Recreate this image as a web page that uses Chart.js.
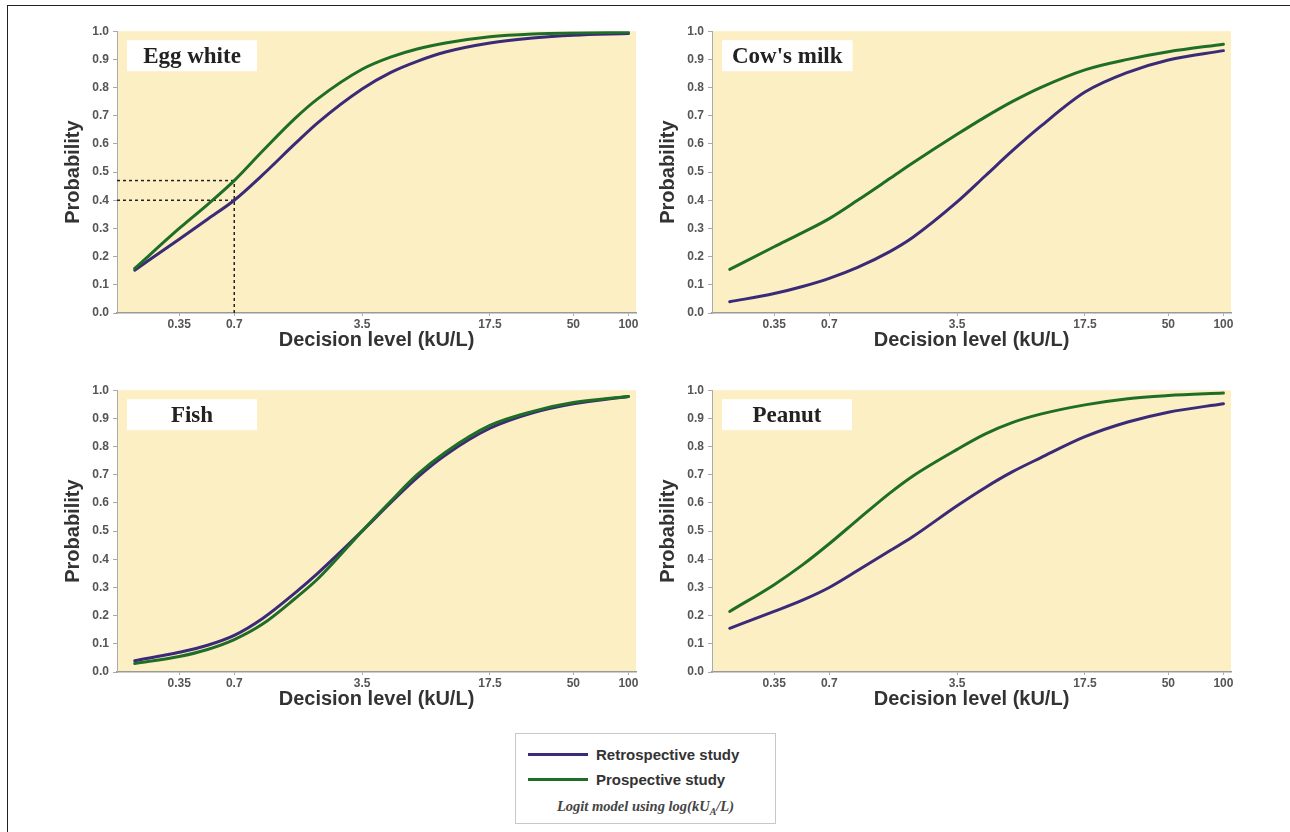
<!DOCTYPE html>
<html>
<head>
<meta charset="utf-8">
<script src="https://cdn.jsdelivr.net/npm/chart.js@4.4.1/dist/chart.umd.min.js"></script>
<style>
  html, body { margin: 0; padding: 0; background: #fff; }
  #page { position: relative; width: 1290px; height: 832px; overflow: hidden; background: #fff; }
  #frame { position: absolute; left: 7px; top: 5px; width: 1300px; height: 900px; border-left: 1.5px solid #222; border-top: 1.5px solid #222; }
  canvas.panel { position: absolute; }
  #legend { position: absolute; left: 515px; top: 733px; width: 261px; height: 91px; border: 1px solid #c8c8c8; background: #fff; box-sizing: border-box; font-family: "Liberation Sans", Arial, sans-serif; }
  .lrow { position: absolute; left: 12px; height: 20px; display: flex; align-items: center; font-weight: bold; font-size: 15px; color: #333; }
  .lline { width: 60px; height: 3px; margin-right: 8px; }
  #lnote { position: absolute; left: 0; width: 100%; top: 64px; text-align: center; font-family: "Liberation Serif", "Times New Roman", serif; font-style: italic; font-weight: bold; font-size: 14.5px; color: #444; }
</style>
</head>
<body>
<div id="page">
  <div id="frame"></div>
  <canvas class="panel" id="c1" width="600" height="340" style="left:40px;top:20px"></canvas>
  <canvas class="panel" id="c2" width="600" height="340" style="left:635px;top:20px"></canvas>
  <canvas class="panel" id="c3" width="600" height="340" style="left:40px;top:379px"></canvas>
  <canvas class="panel" id="c4" width="600" height="340" style="left:635px;top:379px"></canvas>
  <div id="legend">
    <div class="lrow" style="top:10px"><div class="lline" id="ll1"></div><span id="lt1"></span></div>
    <div class="lrow" style="top:35px"><div class="lline" id="ll2"></div><span id="lt2"></span></div>
    <div id="lnote">Logit model using log(kU<sub style="font-size:10px">A</sub>/L)</div>
  </div>
</div>
<script>
// ---------- data ----------
const panelTitles = ["Egg white", "Cow's milk", "Fish", "Peanut"];
const seriesNames = ["Retrospective study", "Prospective study"];
const xLevels = [0.2, 0.35, 0.5, 0.7, 1, 1.5, 2, 3.5, 5, 7, 10, 17.5, 30, 50, 100];
const xTickVals = [0.35, 0.7, 3.5, 17.5, 50, 100];
const xTickLabels = ["0.35", "0.7", "3.5", "17.5", "50", "100"];
const eggRetro   = [0.152, 0.262, 0.333, 0.40, 0.49, 0.60, 0.675, 0.795, 0.853, 0.893, 0.926, 0.958, 0.976, 0.986, 0.992];
const eggPro     = [0.158, 0.30, 0.385, 0.47, 0.575, 0.69, 0.76, 0.865, 0.908, 0.937, 0.958, 0.98, 0.99, 0.994, 0.996];
const milkRetro  = [0.04, 0.069, 0.094, 0.123, 0.162, 0.218, 0.268, 0.394, 0.487, 0.575, 0.662, 0.784, 0.854, 0.898, 0.931];
const milkPro    = [0.155, 0.235, 0.285, 0.335, 0.40, 0.477, 0.532, 0.634, 0.696, 0.75, 0.80, 0.863, 0.90, 0.927, 0.954];
const fishRetro  = [0.04, 0.07, 0.095, 0.13, 0.19, 0.28, 0.35, 0.50, 0.60, 0.69, 0.77, 0.865, 0.92, 0.952, 0.978];
const fishPro    = [0.03, 0.055, 0.08, 0.115, 0.17, 0.26, 0.33, 0.50, 0.605, 0.70, 0.78, 0.875, 0.925, 0.956, 0.978];
const peanutRetro= [0.155, 0.215, 0.255, 0.30, 0.36, 0.43, 0.48, 0.59, 0.655, 0.71, 0.76, 0.835, 0.887, 0.922, 0.952];
const peanutPro  = [0.215, 0.31, 0.38, 0.455, 0.54, 0.635, 0.695, 0.79, 0.845, 0.885, 0.915, 0.948, 0.97, 0.981, 0.99];
// egg white reference (dashed) lines
const refDecision = 0.7;
const refLevels = [0.47, 0.40];

// ---------- style ----------
const X_MIN = 0.16, X_MAX = 110;
const COL_RETRO = '#3b2a78';
const COL_PRO = '#1f6e28';
const BG = '#fcefc4';
const SANS = '"Liberation Sans", Arial, sans-serif';
const SERIF = '"Liberation Serif", "Times New Roman", serif';

document.getElementById('ll1').style.background = COL_RETRO;
document.getElementById('ll2').style.background = COL_PRO;
document.getElementById('lt1').textContent = seriesNames[0];
document.getElementById('lt2').textContent = seriesNames[1];

const bgPlugin = {
  id: 'areaBg',
  beforeDraw(chart) {
    const {ctx, chartArea: a} = chart;
    ctx.save();
    ctx.fillStyle = BG;
    ctx.fillRect(a.left, a.top, a.right - a.left, a.bottom - a.top);
    ctx.restore();
  },
  beforeDatasetsDraw(chart, args, opts) {
    if (!opts || !opts.text) return;
    const {ctx, chartArea: a} = chart;
    ctx.save();
    ctx.font = 'bold 23px ' + SERIF;
    const tw = ctx.measureText(opts.text).width;
    const bx = a.left + 10, by = a.top + 9, bw = Math.max(130, tw + 20), bh = 31;
    ctx.fillStyle = '#ffffff';
    ctx.fillRect(bx, by, bw, bh);
    ctx.fillStyle = '#222';
    ctx.textAlign = 'center';
    ctx.textBaseline = 'middle';
    ctx.fillText(opts.text, bx + bw / 2, by + bh / 2 + 1);
    ctx.restore();
  }
};

function pts(xs, ys) { return xs.map((x, i) => ({x: x, y: ys[i]})); }

function makeChart(id, title, retro, pro, withRef) {
  const datasets = [
    { label: seriesNames[0], data: pts(xLevels, retro), borderColor: COL_RETRO, borderWidth: 3,
      pointRadius: 0, cubicInterpolationMode: 'monotone', order: 1, borderCapStyle: 'round' },
    { label: seriesNames[1], data: pts(xLevels, pro), borderColor: COL_PRO, borderWidth: 3,
      pointRadius: 0, cubicInterpolationMode: 'monotone', order: 0, borderCapStyle: 'round' }
  ];
  if (withRef) {
    refLevels.forEach(lv => {
      datasets.push({ data: [{x: X_MIN, y: lv}, {x: refDecision, y: lv}], borderColor: '#222',
        borderWidth: 1.5, borderDash: [3, 3], pointRadius: 0, tension: 0, order: 2 });
    });
    datasets.push({ data: [{x: refDecision, y: 0}, {x: refDecision, y: Math.max(...refLevels)}], borderColor: '#222',
      borderWidth: 1.5, borderDash: [3, 3], pointRadius: 0, tension: 0, order: 2 });
  }
  return new Chart(document.getElementById(id), {
    type: 'line',
    data: { datasets },
    plugins: [bgPlugin],
    options: {
      responsive: false, animation: false, events: [],
      layout: { padding: { left: 0, right: 4, top: 8, bottom: 0 } },
      plugins: { legend: { display: false }, tooltip: { enabled: false }, areaBg: { text: title } },
      scales: {
        x: {
          type: 'logarithmic', min: X_MIN, max: X_MAX,
          afterBuildTicks(scale) { scale.ticks = xTickVals.map(v => ({ value: v })); },
          afterFit(scale) { scale.height = 47; },
          ticks: { autoSkip: false, maxRotation: 0, padding: 1,
            callback: (v) => { const i = xTickVals.indexOf(v); return i >= 0 ? xTickLabels[i] : ''; },
            font: { family: SANS, size: 12, weight: 'bold', lineHeight: 1.2 }, color: '#555' },
          grid: { drawOnChartArea: false, drawTicks: true, tickLength: 3, color: '#aaa' },
          border: { color: '#999', width: 1.5 },
          title: { display: true, text: 'Decision level (kU/L)', color: '#333',
            font: { family: SANS, size: 20, weight: 'bold', lineHeight: 1.2 }, padding: { top: 0, bottom: 8 } }
        },
        y: {
          type: 'linear', min: 0, max: 1,
          afterFit(scale) { scale.width = 77; },
          ticks: { stepSize: 0.1, padding: 4, callback: (v) => Number(v).toFixed(1),
            font: { family: SANS, size: 12, weight: 'bold' }, color: '#555' },
          grid: { drawOnChartArea: false, drawTicks: true, tickLength: 4, color: '#aaa' },
          border: { color: '#aaa', width: 1 },
          title: { display: true, text: 'Probability', color: '#333',
            font: { family: SANS, size: 20, weight: 'bold', lineHeight: 1.2 }, padding: { top: 21, bottom: 0 } }
        }
      }
    }
  });
}

makeChart('c1', panelTitles[0], eggRetro, eggPro, true);
makeChart('c2', panelTitles[1], milkRetro, milkPro, false);
makeChart('c3', panelTitles[2], fishRetro, fishPro, false);
makeChart('c4', panelTitles[3], peanutRetro, peanutPro, false);
</script>
</body>
</html>
